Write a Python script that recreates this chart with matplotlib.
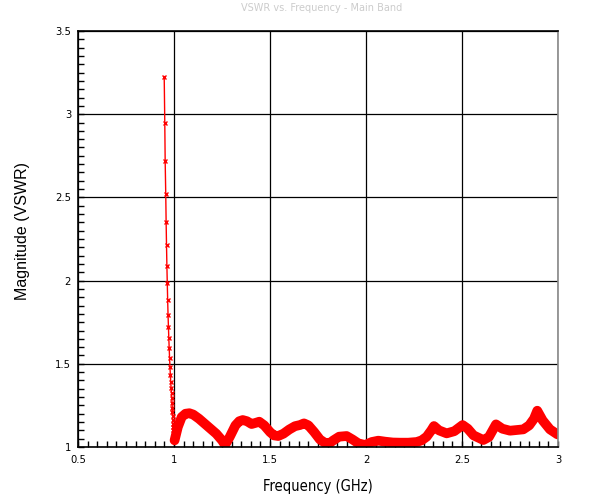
import matplotlib
matplotlib.use("Agg")
from matplotlib import pyplot as plt
from matplotlib.ticker import MultipleLocator

# steep part below 1 GHz, drawn with x markers
freq_low = [0.949, 0.952, 0.954, 0.957, 0.959, 0.961, 0.963, 0.965, 0.967, 0.969,
            0.971, 0.973, 0.975, 0.977, 0.979, 0.981, 0.983, 0.985, 0.987, 0.989,
            0.990, 0.991, 0.992, 0.993, 0.994, 0.995, 0.996, 0.997, 0.998, 0.999, 1.001]
vswr_low = [3.226, 2.946, 2.721, 2.52, 2.353, 2.213, 2.088, 1.983, 1.883, 1.793,
            1.723, 1.653, 1.593, 1.533, 1.483, 1.433, 1.393, 1.353, 1.323, 1.293,
            1.263, 1.235, 1.21, 1.185, 1.16, 1.14, 1.12, 1.10, 1.08, 1.06, 1.045]

# band part, drawn as a thick line
freq_band = [1.003, 1.02, 1.04, 1.06, 1.08, 1.10, 1.13, 1.16, 1.19, 1.22, 1.25, 1.266,
             1.29, 1.32, 1.34, 1.358, 1.38, 1.404, 1.425, 1.444, 1.47, 1.50, 1.52, 1.543,
             1.57, 1.60, 1.63, 1.656, 1.677, 1.70, 1.73, 1.76, 1.79, 1.809, 1.83, 1.86,
             1.899, 1.93, 1.96, 1.995, 2.03, 2.064, 2.10, 2.14, 2.177, 2.22, 2.264, 2.29,
             2.316, 2.34, 2.354, 2.38, 2.42, 2.46, 2.503, 2.53, 2.56, 2.611, 2.64, 2.677,
             2.71, 2.75, 2.819, 2.85, 2.875, 2.892, 2.92, 2.958, 2.997]
vswr_band = [1.04, 1.12, 1.18, 1.20, 1.203, 1.195, 1.17, 1.14, 1.11, 1.08, 1.04, 1.012,
             1.06, 1.13, 1.155, 1.162, 1.155, 1.138, 1.145, 1.152, 1.13, 1.09, 1.07, 1.066,
             1.08, 1.105, 1.125, 1.132, 1.142, 1.13, 1.09, 1.045, 1.022, 1.022, 1.04, 1.062,
             1.066, 1.045, 1.022, 1.012, 1.03, 1.038, 1.032, 1.027, 1.026, 1.026, 1.03, 1.04,
             1.062, 1.10, 1.126, 1.10, 1.082, 1.095, 1.132, 1.11, 1.07, 1.042, 1.06, 1.136,
             1.11, 1.098, 1.106, 1.13, 1.17, 1.218, 1.16, 1.106, 1.076]

xticks = [0.5, 1, 1.5, 2, 2.5, 3]
yticks = [1, 1.5, 2, 2.5, 3, 3.5]

fig = plt.figure(figsize=(6.01, 5.01), dpi=100)
ax = fig.add_axes([78 / 601, 54 / 501, 480 / 601, 416 / 501])

ax.plot(freq_low, vswr_low, color='red', lw=1, marker='x', ms=3.5, mew=1)
ax.plot(freq_band, vswr_band, color='red', lw=7, solid_capstyle='round',
        solid_joinstyle='round')

ax.set_xlim(0.5, 3)
ax.set_ylim(1, 3.5)
ax.xaxis.set_minor_locator(MultipleLocator(0.05))
ax.yaxis.set_minor_locator(MultipleLocator(0.05))
ax.set_xticks(xticks)
ax.set_xticklabels(['0.5', '1', '1.5', '2', '2.5', '3'],
                   family='DejaVu Sans', stretch='condensed', fontsize=8)
ax.set_yticks(yticks)
ax.set_yticklabels(['1', '1.5', '2', '2.5', '3', '3.5'],
                   family='DejaVu Sans', stretch='condensed', fontsize=8)
ax.tick_params(which='both', direction='in', length=4, width=1, color='black')
ax.tick_params(axis='x', pad=6)
ax.tick_params(axis='y', pad=5)
ax.grid(True, which='major', color='black', lw=0.9)
for s in ax.spines.values():
    s.set_color('black')
    s.set_linewidth(1.2)
ax.spines['right'].set_color('#888888')

ax.set_xlabel('Frequency (GHz)', family='DejaVu Sans', stretch='condensed',
              fontsize=10.5, labelpad=10)
ax.set_ylabel('Magnitude (VSWR)', family='Liberation Sans', fontsize=11.5)
ax.yaxis.set_label_coords(-0.1, 0.52)
fig.text(0.535, 0.985, 'VSWR vs. Frequency - Main Band', ha='center', va='center',
         fontsize=7, color='#cccccc')

fig.savefig('out.png', dpi=100)
